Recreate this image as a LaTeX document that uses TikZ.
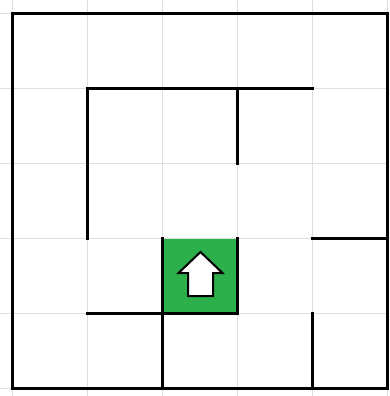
\documentclass[tikz,border=0pt]{standalone}
\begin{document}
\begin{tikzpicture}[x=1pt,y=-1pt,
  gridline/.style={draw=black!13,line width=1pt},
  wall/.style={draw=black,line width=3pt,line cap=rect},
  goalcell/.style={fill=goalgreen,draw=none},
  arrowshape/.style={fill=white,draw=black,line width=2pt,line join=miter}]
\definecolor{goalgreen}{RGB}{44,176,75}
\useasboundingbox (0,0) rectangle (389,396);
\fill[white] (0,0) rectangle (389,396);
% goal cell
\fill[goalcell] (162,238.5) rectangle (237,313.5);
% grid
\foreach \i in {0,...,5}{
  \draw[gridline] (12+75*\i,0) -- (12+75*\i,396);
  \draw[gridline] (0,13.5+75*\i) -- (389,13.5+75*\i);
}
\fill[goalcell] (162.5,239) rectangle (236.5,313);
% outer border
\draw[wall] (12,13.5) rectangle (387,388.5);
% walls
\draw[wall] (87,238.5) -- (87,88.5) -- (312,88.5);
\draw[wall] (237,88.5) -- (237,163.5);
\draw[wall] (312,238.5) -- (387,238.5);
\draw[wall] (87,313.5) -- (162,313.5);
\draw[wall] (162,238.5) -- (162,388.5);
\draw[wall] (162,313.5) -- (237,313.5) -- (237,238.5);
\draw[wall] (312,313.5) -- (312,388.5);
% arrow
\draw[arrowshape] (200.5,252) -- (222.5,273) -- (213,273) -- (213,296) -- (188,296) -- (188,273) -- (178.5,273) -- cycle;
\end{tikzpicture}
\end{document}
